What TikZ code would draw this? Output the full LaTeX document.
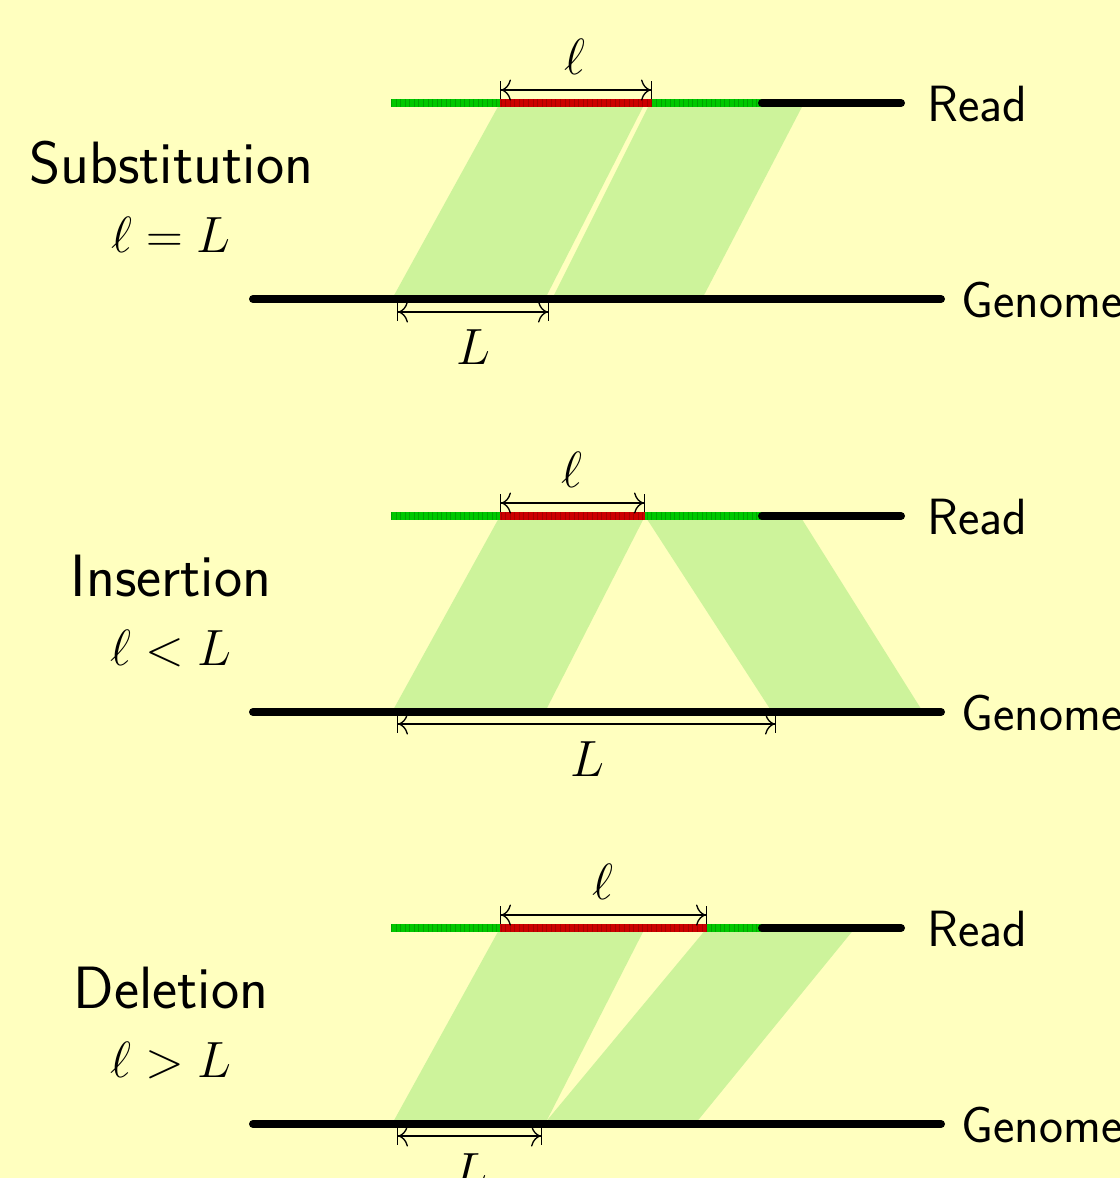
\RequirePackage{fix-cm}
\documentclass[tikz,border=0pt]{standalone}
\usetikzlibrary{arrows.meta}
\definecolor{bg}{RGB}{255,255,191}
\definecolor{band}{RGB}{205,243,155}
\definecolor{rgreen}{RGB}{0,200,0}
\definecolor{rred}{RGB}{204,0,0}
\tikzset{
  seq/.style={line width=0.16cm},
  ticks/.style={line width=0.16cm, draw=black, draw opacity=0.18, dash pattern=on 0.5pt off 2.1pt},
  dimline/.style={line width=0.75pt, {Bar[width=10pt,sep=0pt]To[length=5.5pt,width=12pt]}-{To[length=5.5pt,width=12pt]Bar[width=10pt,sep=0pt]}},
  big/.style={font=\sffamily\fontsize{34}{40}\selectfont, inner sep=0pt},
  lbl/.style={font=\sffamily\fontsize{29}{34}\selectfont, inner sep=0pt},
  mth/.style={font=\fontsize{29}{34}\selectfont, inner sep=0pt},
}
\begin{document}
\begin{tikzpicture}[x=0.02cm, y=-0.02cm]
\fill[bg] (0,0) rectangle (1120,1178);
\useasboundingbox (0,0) rectangle (1120,1178);

% ===================== Panel 1: Substitution =====================
\fill[band] (500,103) -- (645,103) -- (545,299) -- (392,299) -- cycle;
\fill[band] (650,103) -- (804,103) -- (702,299) -- (552,299) -- cycle;
\coordinate (a0) at (391,103); \coordinate (a1) at (500,103);
\coordinate (a2) at (652,103); \coordinate (a3) at (762,103);
\coordinate (a4) at (901,103);
\draw[seq, rgreen] (a0) -- (a1);
\draw[seq, rred] (a1) -- (a2);
\draw[seq, rgreen] (a2) -- (a3);
\draw[ticks] (a0) -- (a3);
\draw[seq, black, line cap=round] (a3) -- (a4);
\coordinate (g1a) at (253,299); \coordinate (g1b) at (941,299);
\draw[seq, black, line cap=round] (g1a) -- (g1b);
\coordinate (d1a) at (500,90); \coordinate (d1b) at (652,90);
\draw[dimline] (d1a) -- (d1b);
\coordinate (e1a) at (397,312); \coordinate (e1b) at (549,312);
\draw[dimline] (e1a) -- (e1b);
\node[mth, anchor=base] (l1) at (575,74) {$\ell$};
\node[mth, anchor=base] (L1) at (473,364) {$L$};
\node[lbl, anchor=base west] (r1) at (927,121) {Read};
\node[lbl, anchor=base west] (gn1) at (961,317) {Genome};
\node[big, anchor=base] (t1) at (171,183) {Substitution};
\node[mth, anchor=base] (m1) at (171,252) {$\ell = L$};

% ===================== Panel 2: Insertion =====================
\fill[band] (500,516) -- (645,516) -- (545,712) -- (392,712) -- cycle;
\fill[band] (645,516) -- (800,516) -- (923,712) -- (772,712) -- cycle;
\coordinate (b0) at (391,516); \coordinate (b1) at (500,516);
\coordinate (b2) at (645,516); \coordinate (b3) at (762,516);
\coordinate (b4) at (901,516);
\draw[seq, rgreen] (b0) -- (b1);
\draw[seq, rred] (b1) -- (b2);
\draw[seq, rgreen] (b2) -- (b3);
\draw[ticks] (b0) -- (b3);
\draw[seq, black, line cap=round] (b3) -- (b4);
\coordinate (g2a) at (253,712); \coordinate (g2b) at (941,712);
\draw[seq, black, line cap=round] (g2a) -- (g2b);
\coordinate (d2a) at (500,503); \coordinate (d2b) at (645,503);
\draw[dimline] (d2a) -- (d2b);
\coordinate (e2a) at (397,724); \coordinate (e2b) at (776,724);
\draw[dimline] (e2a) -- (e2b);
\node[mth, anchor=base] (l2) at (572,487) {$\ell$};
\node[mth, anchor=base] (L2) at (587,776) {$L$};
\node[lbl, anchor=base west] (r2) at (927,534) {Read};
\node[lbl, anchor=base west] (gn2) at (961,730) {Genome};
\node[big, anchor=base] (t2) at (171,596) {Insertion};
\node[mth, anchor=base] (m2) at (171,665) {$\ell < L$};

% ===================== Panel 3: Deletion =====================
\fill[band] (500,928) -- (645,928) -- (545,1124) -- (392,1124) -- cycle;
\fill[band] (707,928) -- (855,928) -- (695,1124) -- (544,1124) -- cycle;
\coordinate (c0) at (391,928); \coordinate (c1) at (500,928);
\coordinate (c2) at (707,928); \coordinate (c3) at (762,928);
\coordinate (c4) at (901,928);
\draw[seq, rgreen] (c0) -- (c1);
\draw[seq, rred] (c1) -- (c2);
\draw[seq, rgreen] (c2) -- (c3);
\draw[ticks] (c0) -- (c3);
\draw[seq, black, line cap=round] (c3) -- (c4);
\coordinate (g3a) at (253,1124); \coordinate (g3b) at (941,1124);
\draw[seq, black, line cap=round] (g3a) -- (g3b);
\coordinate (d3a) at (500,915); \coordinate (d3b) at (707,915);
\draw[dimline] (d3a) -- (d3b);
\coordinate (e3a) at (397,1136); \coordinate (e3b) at (542,1136);
\draw[dimline] (e3a) -- (e3b);
\node[mth, anchor=base] (l3) at (603,899) {$\ell$};
\node[mth, anchor=base] (L3) at (470,1188) {$L$};
\node[lbl, anchor=base west] (r3) at (927,946) {Read};
\node[lbl, anchor=base west] (gn3) at (961,1142) {Genome};
\node[big, anchor=base] (t3) at (171,1008) {Deletion};
\node[mth, anchor=base] (m3) at (171,1077) {$\ell > L$};
\end{tikzpicture}
\end{document}
